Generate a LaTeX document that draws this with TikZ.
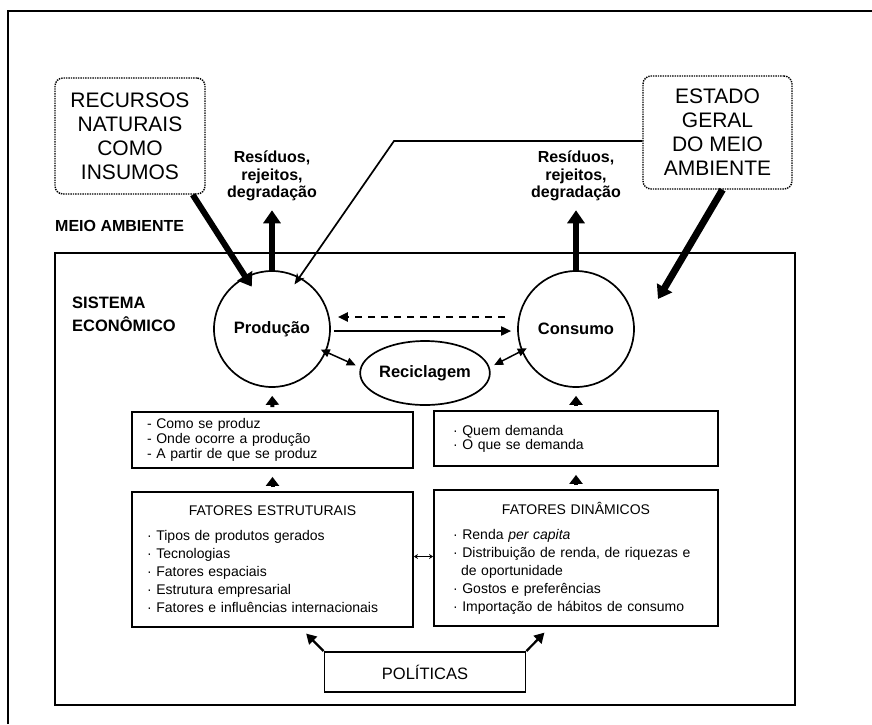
\documentclass[tikz,border=0pt]{standalone}
\usepackage{fontspec}
\setmainfont{Liberation Sans}
\usepackage{xcolor}
\usepackage{tikz}
\usetikzlibrary{shapes,arrows.meta,positioning}

\tikzset{
  pontilhada/.style={draw,densely dotted,line width=1.4pt,rounded corners=8pt,align=center,
                     inner sep=0pt,font=\fontsize{21}{24}\selectfont},
  caixa/.style={draw,line width=1.8pt,inner sep=0pt},
  lista/.style={align=left,font=\fontsize{14}{18}\selectfont},
  rotulo/.style={font=\bfseries\fontsize{16}{17.5}\selectfont,align=center,inner sep=0pt},
  bola/.style={draw,line width=1.7pt,inner sep=0pt,font=\bfseries\fontsize{16.5}{18}\selectfont},
  grossa/.style={line width=6pt,-{Triangle[width=17pt,length=13pt]}},
  seta/.style={line width=4pt,-{Triangle[width=13pt,length=9pt]},shorten <=4pt,shorten >=8pt},
  fina/.style={line width=1.8pt,-{Triangle[width=9pt,length=10pt]}},
  dupla/.style={line width=1.5pt,{Triangle[width=8pt,length=9pt]}-{Triangle[width=8pt,length=9pt]},
                shorten <=-6pt,shorten >=5pt},
  seta2/.style={line width=2.2pt,-{Triangle[width=11pt,length=10pt]},shorten >=8pt},
}

\begin{document}
\begin{tikzpicture}[x=1pt,y=-1pt]
\useasboundingbox (0,0) rectangle (872,724);
\draw[line width=1.5pt] (8,724) -- (8,11) -- (872,11);

\node[pontilhada,minimum width=150pt,minimum height=116pt] (recursos) at (130,136)
  {RECURSOS\\NATURAIS\\COMO\\INSUMOS};
\node[pontilhada,minimum width=149pt,minimum height=113pt] (estado) at (717.5,132.5)
  {ESTADO\\GERAL\\DO MEIO\\AMBIENTE};
\node[rotulo] (res1) at (272,176) {Resíduos,\\rejeitos,\\degradação};
\node[rotulo] (res2) at (576,176) {Resíduos,\\rejeitos,\\degradação};
\node[rotulo,anchor=west] (meio) at (55,226) {MEIO AMBIENTE};

\node[caixa,minimum width=740pt,minimum height=452pt] (sistema) at (425,479) {};
\node[rotulo,anchor=west,align=left,font=\bfseries\fontsize{16.5}{23}\selectfont] (sisteco) at (72,314)
  {SISTEMA\\ECONÔMICO};

\node[bola,circle,minimum size=116pt] (prod) at (272,329) {Produção};
\node[bola,circle,minimum size=116pt] (cons) at (576,329) {Consumo};
\node[bola,ellipse,minimum width=112pt,minimum height=64pt] (recic) at (425,373) {Reciclagem};

\node[caixa,lista,font=\fontsize{14}{15}\selectfont,minimum width=281pt,minimum height=56pt,
      text width=251pt] (como) at (272.5,440)
  {- Como se produz\\- Onde ocorre a produção\\- A partir de que se produz};
\node[caixa,lista,font=\fontsize{14}{14}\selectfont,minimum width=284pt,minimum height=55pt,
      text width=246pt] (quem) at (576,438.5)
  {· Quem demanda\\· O que se demanda};
\node[caixa,lista,minimum width=281pt,minimum height=135pt,text width=251pt] (estrut) at (272.5,559.5)
  {\hfill FATORES ESTRUTURAIS\hfill\null\\[7pt]
   · Tipos de produtos gerados\\· Tecnologias\\· Fatores espaciais\\
   · Estrutura empresarial\\· Fatores e influências internacionais};
\node[caixa,lista,minimum width=284pt,minimum height=136pt,text width=246pt] (dinam) at (576,558)
  {\hfill FATORES DINÂMICOS\hfill\null\\[7pt]
   · Renda \textit{per capita}\\· Distribuição de renda, de riquezas e\\
   \hspace*{8pt}de oportunidade\\· Gostos e preferências\\· Importação de hábitos de consumo};
\node[caixa,minimum width=201pt,minimum height=40pt,font=\fontsize{16.5}{18}\selectfont] (polit) at (425,672)
  {POLÍTICAS};

\coordinate (estadoalvo) at (658,299);
\coordinate (dobra) at (394,141);

\draw[grossa,shorten >=-12pt] ([xshift=-13pt]recursos.south east) -- (prod.117);
\draw[grossa] (prod.north) -- ([yshift=-9pt]res1.south);
\draw[grossa] (cons.north) -- ([yshift=-9pt]res2.south);
\draw[grossa,line width=7pt] ([xshift=5pt]estado.south) -- (estadoalvo);
\draw[line width=1.7pt,-{Stealth[length=11pt,width=9pt]},shorten >=-9pt]
  ([yshift=-8.5pt]estado.west) -- (dobra) -- (prod.62);

\draw[fina,shorten <=3pt,shorten >=6pt] ([yshift=-2pt]prod.east) -- ([yshift=-2pt]cons.west);
\draw[fina,line width=2.2pt,dash pattern=on 7pt off 6pt,shorten <=12pt,shorten >=7pt]
  ([yshift=12pt]cons.west) -- ([yshift=12pt]prod.east);
\draw[dupla] (prod.-23) -- (recic.175);
\draw[dupla] (cons.202) -- (recic.5);

\draw[seta] (como.north) -- (prod.south);
\draw[seta] (quem.north) -- (cons.south);
\draw[seta] (estrut.north) -- (como.south);
\draw[seta] (dinam.north) -- (quem.south);
\draw[line width=1.2pt,{Stealth[length=4pt,width=5pt]}-{Stealth[length=4pt,width=5pt]}]
  ([yshift=3pt]estrut.east) -- ([yshift=1.5pt]dinam.west);
\draw[seta2] (polit.north west) -- ([xshift=28pt]estrut.south);
\draw[seta2] (polit.north east) -- ([xshift=-26pt]dinam.south);
\end{tikzpicture}
\end{document}
